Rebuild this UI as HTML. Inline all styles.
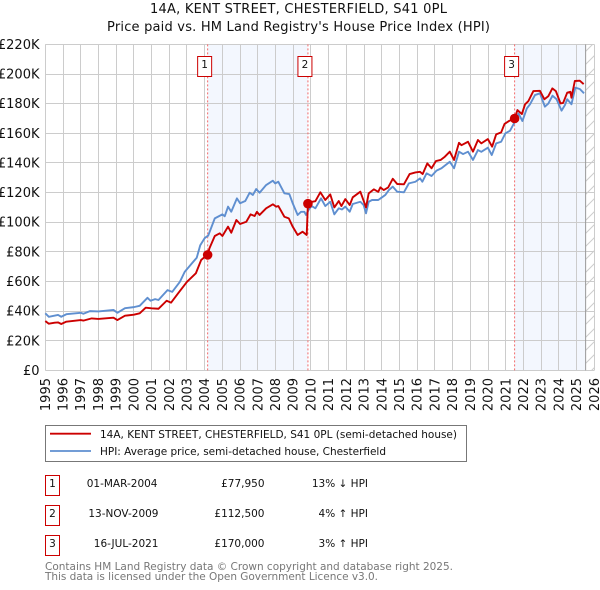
<!DOCTYPE html>
<html lang="en">
<head>
<meta charset="utf-8">
<title>14A, KENT STREET, CHESTERFIELD, S41 0PL</title>
<style>
html,body{margin:0;padding:0;background:#fff;width:600px;height:590px;overflow:hidden}
svg{display:block;position:absolute;left:0;top:0}
text{font-family:"DejaVu Sans","Liberation Sans",sans-serif;fill:#111}
</style>
</head>
<body>
<svg id="chart" xmlns="http://www.w3.org/2000/svg" width="600" height="590" viewBox="0 0 600 590">
  <defs>
    <pattern id="hatch" patternUnits="userSpaceOnUse" width="13" height="13">
      <path d="M0 13L13 0" stroke="#ccc" stroke-width="1" fill="none"/>
    </pattern>
  </defs>
  <rect width="600" height="590" fill="#fff"/>
  <text x="150" y="13" font-size="13" textLength="297" lengthAdjust="spacing">14A, KENT STREET, CHESTERFIELD, S41 0PL</text>
  <text x="107" y="31" font-size="13" textLength="383" lengthAdjust="spacing">Price paid vs. HM Land Registry's House Price Index (HPI)</text>
  <g id="bands"></g>
  <g id="grid"></g>
  <g id="frame"></g>
  <g id="series"></g>
  <g id="markers"></g>
  <g id="yticks"></g>
  <g id="xticks"></g>

  <g>
    <rect x="45.5" y="425.5" width="421" height="36" fill="#fff" stroke="#777" stroke-width="1"/>
    <line x1="50" x2="91" y1="433.7" y2="433.7" stroke="#cc0000" stroke-width="1.8"/>
    <text x="100" y="438" font-size="10.5" textLength="357" lengthAdjust="spacing">14A, KENT STREET, CHESTERFIELD, S41 0PL (semi-detached house)</text>
    <line x1="50" x2="91" y1="451" y2="451" stroke="#5f8fd0" stroke-width="1.8"/>
    <text x="100" y="455" font-size="10.5" textLength="286" lengthAdjust="spacing">HPI: Average price, semi-detached house, Chesterfield</text>
  </g>

  <g font-size="10.5">
    <g>
      <rect x="45.5" y="475.5" width="14" height="20" fill="#fff" stroke="#cc0000" stroke-width="1"/>
      <text x="52.5" y="487" text-anchor="middle" font-size="10.5">1</text>
      <text x="157.5" y="487" text-anchor="end" font-size="10.5">01-MAR-2004</text>
      <text x="264.5" y="487" text-anchor="end" font-size="10.5">£77,950</text>
      <text x="368" y="487" text-anchor="end" font-size="10.5">13% ↓ HPI</text>
    </g>
    <g>
      <rect x="45.5" y="505.5" width="14" height="20" fill="#fff" stroke="#cc0000" stroke-width="1"/>
      <text x="52.5" y="517" text-anchor="middle" font-size="10.5">2</text>
      <text x="158.5" y="517" text-anchor="end" font-size="10.5">13-NOV-2009</text>
      <text x="264.5" y="517" text-anchor="end" font-size="10.5">£112,500</text>
      <text x="368" y="517" text-anchor="end" font-size="10.5">4% ↑ HPI</text>
    </g>
    <g>
      <rect x="45.5" y="535.5" width="14" height="20" fill="#fff" stroke="#cc0000" stroke-width="1"/>
      <text x="52.5" y="547" text-anchor="middle" font-size="10.5">3</text>
      <text x="158.5" y="547" text-anchor="end" font-size="10.5">16-JUL-2021</text>
      <text x="264.5" y="547" text-anchor="end" font-size="10.5">£170,000</text>
      <text x="368" y="547" text-anchor="end" font-size="10.5">3% ↑ HPI</text>
    </g>
  </g>

  <text x="45" y="570" font-size="10.5" textLength="408" lengthAdjust="spacing" style="fill:#777">Contains HM Land Registry data © Crown copyright and database right 2025.</text>
  <text x="45" y="580" font-size="10.5" textLength="333" lengthAdjust="spacing" style="fill:#777">This data is licensed under the Open Government Licence v3.0.</text>
</svg>
<script>
var yearTicks = [1995,1996,1997,1998,1999,2000,2001,2002,2003,2004,2005,2006,2007,2008,2009,2010,2011,2012,2013,2014,2015,2016,2017,2018,2019,2020,2021,2022,2023,2024,2025,2026];
var valueTicks = [0,20,40,60,80,100,120,140,160,180,200,220];
var valueTickLabels = ["£0","£20K","£40K","£60K","£80K","£100K","£120K","£140K","£160K","£180K","£200K","£220K"];

var hpiDates = [1995,1995.2,1995.72,1995.9,1996.19,1997,1997.15,1997.52,1998,1998.85,1999.07,1999.5,2000,2000.33,2000.77,2000.94,2001.2,2001.39,2001.9,2002.17,2002.6,2002.87,2003.33,2003.55,2003.75,2004,2004.2,2004.57,2005,2005.13,2005.32,2005.5,2005.82,2006,2006.29,2006.54,2006.72,2006.91,2007.1,2007.47,2007.85,2007.98,2008.16,2008.5,2008.78,2008.97,2009.25,2009.44,2009.63,2009.72,2009.9,2010.04,2010.25,2010.57,2010.81,2011.09,2011.32,2011.57,2011.75,2011.94,2012.19,2012.36,2012.79,2012.98,2013.11,2013.26,2013.45,2013.8,2014.2,2014.4,2014.62,2014.87,2015.25,2015.53,2015.9,2016.16,2016.29,2016.53,2016.81,2017.09,2017.37,2017.84,2018.08,2018.36,2018.59,2018.87,2019.15,2019.43,2019.62,2019.99,2020.21,2020.46,2020.74,2020.98,2021.24,2021.5,2021.72,2021.94,2022.19,2022.37,2022.65,2022.93,2023.21,2023.4,2023.64,2023.87,2024.15,2024.34,2024.47,2024.71,2024.93,2025.18,2025.42];
var hpiValues = [38.5,36.2,37.4,36.2,37.9,38.9,38.2,40,39.8,40.8,38.9,42,42.7,43.6,49,47,48.1,47.5,54.2,53,59.8,66.5,73,76,84.5,89.3,91,102.6,105.3,104,110.5,107.1,116.1,112.8,114.3,119.9,118.4,122.4,119.9,125.1,128,126.2,127.3,119.5,119,112.8,104.9,107,107,104.9,109,110.9,109.4,116.1,110.9,113.8,105.3,109.4,108.6,110.5,107.1,112.3,113.8,111.5,106,113.8,115,115,118.4,121.7,124,120.6,120.2,126.2,127.3,129.6,127.3,133,131.2,134.8,136.4,140.8,136.4,147.6,146,147.6,142,148.7,147.5,150.3,145.3,153.2,154.3,160,161.7,167.5,173.4,168.3,176.8,179.6,185.8,187,178,180,185.4,183,175.3,179,183,179.6,190.8,189.9,187];

var paidDates = [1995,1995.2,1995.53,1995.72,1995.9,1996.19,1997,1997.15,1997.62,1998,1998.85,1999.07,1999.5,2000,2000.33,2000.67,2001,2001.39,2001.85,2002.1,2002.5,2003,2003.5,2003.8,2004,2004.167,2004.27,2004.57,2004.85,2005,2005.32,2005.5,2005.79,2006,2006.35,2006.59,2006.82,2006.95,2007.1,2007.47,2007.85,2008.03,2008.16,2008.5,2008.75,2008.97,2009.25,2009.53,2009.76,2009.83,2010.06,2010.25,2010.53,2010.81,2011.09,2011.32,2011.57,2011.72,2011.94,2012.19,2012.36,2012.79,2013.11,2013.26,2013.55,2013.8,2013.92,2014.11,2014.36,2014.62,2014.87,2015.25,2015.57,2015.9,2016.16,2016.31,2016.57,2016.81,2017.06,2017.32,2017.56,2017.84,2018.08,2018.36,2018.5,2018.87,2019.15,2019.43,2019.62,2019.99,2020.23,2020.46,2020.74,2020.93,2021.21,2021.5,2021.66,2021.91,2022.09,2022.28,2022.56,2022.93,2023.18,2023.4,2023.63,2023.83,2024.09,2024.24,2024.47,2024.65,2024.71,2024.9,2025.18,2025.4];
var paidValues = [33.3,31.5,32.2,32.4,31.3,32.9,34,33.6,35.1,34.7,35.6,34,36.9,37.6,38.5,42.3,41.9,41.6,47,45.7,52,59.8,65.5,74.5,76.5,77.95,82.4,90.7,92.5,90.7,97,92.9,101.5,98.8,100.3,105.3,104.2,107,104.9,109.4,112.1,110.5,110.9,103.7,102.6,97,91.4,93.6,91.4,112.5,113.8,114.2,120.2,115,118.8,110,114.3,110.9,115.6,111.6,116.8,120.6,110,119.5,122.2,120.5,123.5,121.7,123.5,129.3,125.8,125.6,132.5,133.6,134,132.5,139.7,136.4,141.3,142,144.2,147.6,142,153.6,152,154.3,147.6,155.5,153.2,156.1,151,159.3,160.6,166.3,168.5,170,175.7,173,179.6,181.8,188.5,188.7,183,185,190.3,188.5,180.2,180.5,187.4,188,184,195.3,195.5,193.2];

var saleDates = [2004.167,2009.83,2021.5];
var saleValues = [77.95,112.5,170];
var saleNumbers = ["1","2","3"];
var dataEndDate = 2025.51;

var SVGNS = "http://www.w3.org/2000/svg";
var LEFT = 45.3, RIGHT = 594.3, TOP = 44.4, BOTTOM = 370.4;
function xScale(t){ return LEFT + (t - 1995) * (RIGHT - LEFT) / 31; }
function yScale(v){ return BOTTOM - v * (BOTTOM - TOP) / 220; }
function make(tag, attrs, parent){
  var el = document.createElementNS(SVGNS, tag);
  for (var k in attrs) el.setAttribute(k, attrs[k]);
  parent.appendChild(el);
  return el;
}
function pathFrom(ds, vs){
  var p = "";
  for (var i = 0; i < ds.length; i++) p += (i ? "L" : "M") + xScale(ds[i]).toFixed(2) + " " + yScale(vs[i]).toFixed(2);
  return p;
}

var bands = document.getElementById("bands");
var grid = document.getElementById("grid");
var frame = document.getElementById("frame");
var series = document.getElementById("series");
var markers = document.getElementById("markers");
var yticks = document.getElementById("yticks");
var xticks = document.getElementById("xticks");

var bandA = make("rect", {x: xScale(saleDates[0]), y: TOP, width: xScale(saleDates[1]) - xScale(saleDates[0]), height: BOTTOM - TOP, fill: "#f3f7fe"}, bands);


var bandB = make("rect", {x: xScale(saleDates[2]), y: TOP, width: xScale(dataEndDate) - xScale(saleDates[2]), height: BOTTOM - TOP, fill: "#f3f7fe"}, bands);


var hatch = make("rect", {x: xScale(dataEndDate), y: TOP, width: RIGHT - xScale(dataEndDate), height: BOTTOM - TOP, fill: "url(#hatch)"}, bands);



yearTicks.forEach(function(yr){
  var gx = Math.round(xScale(yr) - 0.5) + 0.5;
  var line = make("line", {x1: gx, x2: gx, y1: TOP, y2: BOTTOM, stroke: "#ccc", "stroke-width": 1}, grid);
  
  
  var label = make("text", {transform: "translate(" + (xScale(yr) + 4.5) + ",378) rotate(-90)", "font-size": 13, "text-anchor": "end"}, xticks);
  label.textContent = yr;
  
  
});

valueTicks.forEach(function(v, i){
  var gy = Math.round(yScale(v) - 0.5) + 0.5;
  var line = make("line", {x1: LEFT, x2: RIGHT, y1: gy, y2: gy, stroke: "#ccc", "stroke-width": 1}, grid);
  
  
  var label = make("text", {x: 39.5, y: yScale(v) + 4.5, "font-size": 13, "text-anchor": "end"}, yticks);
  label.textContent = valueTickLabels[i];
  
  
});

var endLine = make("line", {x1: xScale(dataEndDate), x2: xScale(dataEndDate), y1: TOP, y2: BOTTOM, stroke: "#999", "stroke-width": 1}, frame);



saleDates.forEach(function(d, i){
  var sx = xScale(d);
  var dash = make("line", {x1: sx, x2: sx, y1: TOP, y2: BOTTOM, stroke: "#f26a6a", "stroke-width": 1, "stroke-dasharray": "2 2"}, frame);
  
  
});

var hpiLine = make("path", {d: pathFrom(hpiDates, hpiValues), fill: "none", stroke: "#5f8fd0", "stroke-width": 1.9, "stroke-linejoin": "round"}, series);


var paidLine = make("path", {d: pathFrom(paidDates, paidValues), fill: "none", stroke: "#cc0000", "stroke-width": 1.9, "stroke-linejoin": "round"}, series);



saleDates.forEach(function(d, i){
  var sx = xScale(d);
  var dot = make("circle", {cx: sx, cy: yScale(saleValues[i]), r: 4.8, fill: "#cc0000"}, markers);
  
  
  var box = make("rect", {x: sx - 10, y: 56.5, width: 14, height: 20, fill: "#fff", stroke: "#cc0000", "stroke-width": 1}, markers);
  
  
  var num = make("text", {x: sx - 3, y: 68, "font-size": 10.5, "text-anchor": "middle"}, markers);
  num.textContent = saleNumbers[i];
  
  
});
</script>
</body>
</html>
